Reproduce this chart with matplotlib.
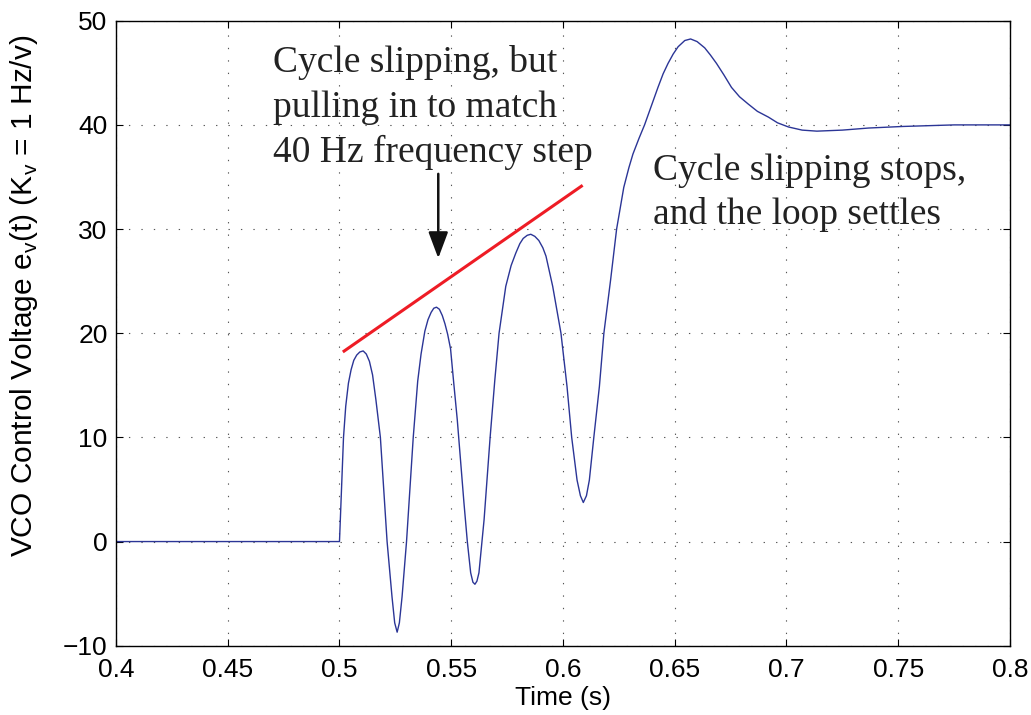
import matplotlib
matplotlib.use("Agg")
import matplotlib.pyplot as plt

# VCO control voltage
time_s = [0.400, 0.500, 0.5009, 0.5018, 0.5028, 0.5040, 0.5052, 0.5064, 0.5077,
          0.5091, 0.5106, 0.5120, 0.5134, 0.5148, 0.5163, 0.5183, 0.5198, 0.5213,
          0.5235, 0.5247, 0.5258, 0.5268, 0.5280, 0.5300, 0.5315, 0.5330, 0.5350,
          0.5365, 0.5382, 0.5396, 0.5410, 0.5422, 0.5434, 0.5447, 0.5460, 0.5472,
          0.5484, 0.5497, 0.5510, 0.5527, 0.5542, 0.5557, 0.5572, 0.5587, 0.5597,
          0.5606, 0.5615, 0.5624, 0.5647, 0.5674, 0.5695, 0.5714, 0.5744, 0.5768,
          0.5789, 0.5807, 0.5822, 0.5840, 0.5856, 0.5874, 0.5892, 0.5910, 0.5924,
          0.5954, 0.5991, 0.6018, 0.6039, 0.6063, 0.6078, 0.6091, 0.6105, 0.6118,
          0.6138, 0.6163, 0.6183, 0.6213, 0.6240, 0.6272, 0.6295, 0.6313, 0.6340,
          0.6365, 0.6395, 0.6425, 0.6448, 0.6470, 0.6493, 0.6515, 0.6545, 0.6571,
          0.6600, 0.6634, 0.6660, 0.6687, 0.6720, 0.6754, 0.6790, 0.6829, 0.6870,
          0.6919, 0.6960, 0.7009, 0.7070, 0.7136, 0.7250, 0.7368, 0.7520, 0.7750,
          0.8000]
voltage = [0.0, 0.0, 5.0, 10.0, 13.0, 15.2, 16.5, 17.4, 17.9,
           18.2, 18.3, 18.0, 17.3, 16.0, 13.6, 10.0, 5.0, 0.0,
           -5.3, -7.8, -8.7, -7.8, -5.3, 0.0, 5.0, 10.0, 15.4,
           18.0, 20.2, 21.3, 22.0, 22.4, 22.5, 22.3, 21.7, 20.9,
           19.9, 18.5, 15.5, 11.7, 7.7, 3.7, 0.0, -3.0, -3.9,
           -4.1, -3.8, -3.0, 2.1, 10.0, 15.5, 20.0, 24.5, 26.5,
           27.7, 28.6, 29.1, 29.4, 29.5, 29.3, 28.9, 28.2, 27.4,
           24.5, 20.0, 14.9, 10.0, 5.9, 4.4, 3.75, 4.4, 5.9,
           10.0, 14.9, 20.0, 25.1, 30.0, 34.0, 35.9, 37.2, 38.7,
           40.0, 41.8, 43.6, 44.9, 45.9, 46.8, 47.5, 48.1, 48.25,
           48.0, 47.4, 46.7, 45.9, 44.8, 43.6, 42.7, 42.0, 41.3,
           40.75, 40.2, 39.8, 39.5, 39.4, 39.5, 39.7, 39.85, 40.0,
           40.0]

# red trend line across the slipping peaks
trend_t = [0.5015, 0.6088]
trend_v = [18.2, 34.2]

x_ticks = [0.4, 0.45, 0.5, 0.55, 0.6, 0.65, 0.7, 0.75, 0.8]
x_tick_labels = ["0.4", "0.45", "0.5", "0.55", "0.6", "0.65", "0.7", "0.75", "0.8"]
y_ticks = [-10, 0, 10, 20, 30, 40, 50]

note_left = ["Cycle slipping, but", "pulling in to match", "40 Hz frequency step"]
note_right = ["Cycle slipping stops,", "and the loop settles"]

plt.rcParams['font.family'] = ['Liberation Sans', 'DejaVu Sans']
plt.rcParams['mathtext.fontset'] = 'custom'
plt.rcParams['mathtext.rm'] = 'Liberation Sans'

fig = plt.figure(figsize=(10.31, 7.15), dpi=100)
ax = fig.add_axes([0.1125, 0.0969, 0.8671, 0.8741])

ax.plot(time_s, voltage, color='#2b3596', linewidth=1.0)
ax.plot(trend_t, trend_v, color='#ee1c25', linewidth=2.2, solid_capstyle='butt')

ax.set_xlim(0.4, 0.8)
ax.set_ylim(-10, 50)
ax.set_xticks(x_ticks)
ax.set_xticklabels(x_tick_labels)
ax.set_yticks(y_ticks)

ax.grid(True, color='#555555', linewidth=0.8, linestyle=(0, (1.2, 10)))
ax.tick_params(direction='in', length=5, width=0.8, top=True, right=True,
               labelsize=19)
ax.tick_params(axis='x', pad=9)
ax.tick_params(axis='y', pad=6)
for sp in ax.spines.values():
    sp.set_linewidth(1.0)

ax.set_xlabel("Time (s)", fontsize=19, labelpad=3)
ax.set_ylabel(r"VCO Control Voltage e$_\mathregular{v}$(t) (K$_\mathregular{v}$ = 1 Hz/v)",
              fontsize=21.5)
ax.yaxis.set_label_coords(-0.085, 0.56)

serif = ['Liberation Serif', 'DejaVu Serif']
for i, line in enumerate(note_left):
    ax.text(0.4701, 45.06 - i * 4.32, line, family=serif, fontsize=27,
            color='#222222', ha='left', va='baseline')
for i, line in enumerate(note_right):
    ax.text(0.6403, 34.75 - i * 4.22, line, family=serif, fontsize=27,
            color='#222222', ha='left', va='baseline')

ax.annotate("", xy=(0.5442, 27.2), xytext=(0.5442, 35.3),
            arrowprops=dict(arrowstyle="-|>,head_length=0.8,head_width=0.3",
                            color='#111111', lw=1.8, mutation_scale=20,
                            shrinkA=0, shrinkB=0))

fig.savefig("out.png", dpi=100)
